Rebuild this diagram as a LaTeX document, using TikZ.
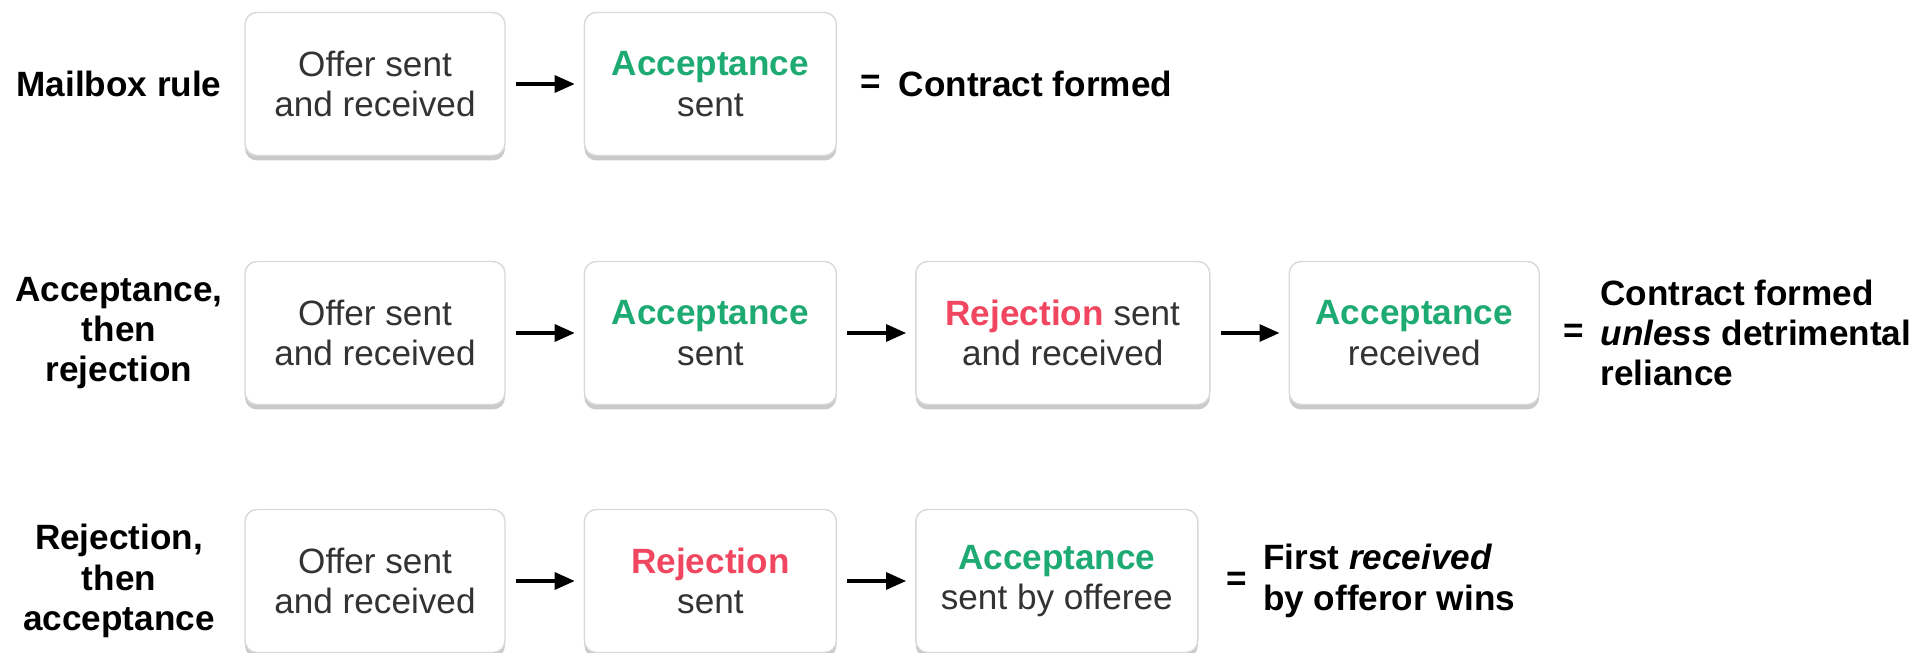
\documentclass[tikz,border=0pt]{standalone}
\usepackage{fontspec}
\setmainfont{Liberation Sans}
\usetikzlibrary{positioning,shadows,arrows.meta}
\definecolor{accgreen}{RGB}{30,170,115}
\definecolor{rejred}{RGB}{240,70,95}
\definecolor{boxtext}{RGB}{51,51,51}
\newcommand{\acc}[1]{\textcolor{accgreen}{\textbf{#1}}}
\newcommand{\rej}[1]{\textcolor{rejred}{\textbf{#1}}}

\begin{document}
\begin{tikzpicture}[node distance=0.78cm,
      every node/.style = {font=\fontsize{10}{11.5}\selectfont},
      stage/.style = {draw=black!15, fill=white, rounded corners=0.12cm, align=center,
        minimum height=1.43cm, text=boxtext,
        drop shadow={shadow xshift=0cm, shadow yshift=-0.05cm, opacity=0.35, fill=black!60}},
      rowlabel/.style = {align=center, font=\fontsize{10}{11.5}\selectfont\bfseries},
      equals/.style = {inner sep=0pt, font=\fontsize{10}{11.5}\selectfont\bfseries},
      result/.style = {align=left, inner sep=0pt, font=\fontsize{10}{11.5}\selectfont\bfseries},
      arr/.style = {-{Triangle[length=0.2cm,width=0.17cm]}, line width=0.9pt,
        shorten >=0.09cm, shorten <=0.1cm}]
    \useasboundingbox (0,0) rectangle (19.21,-6.53);

    \node[rowlabel] (mail) at (1.19,-0.84) {Mailbox rule};
    \node[stage, minimum width=2.6cm] (mailoffer) at (3.75,-0.84) {Offer sent\\and received};
    \node[stage, minimum width=2.52cm, right=of mailoffer] (mailacc) {\acc{Acceptance}\\sent};
    \node[equals, right=0.23cm of mailacc] (maileq) {=};
    \node[result, right=0.16cm of maileq] (mailres) {Contract formed};
    \draw[arr] (mailoffer) -- (mailacc);

    \node[rowlabel] (accrej) at (1.19,-3.33) {Acceptance,\\then\\rejection};
    \node[stage, minimum width=2.6cm] (aroffer) at (3.75,-3.33) {Offer sent\\and received};
    \node[stage, minimum width=2.52cm, right=of aroffer] (aracc) {\acc{Acceptance}\\sent};
    \node[stage, minimum width=2.94cm, right=of aracc] (arrej) {\rej{Rejection} sent\\and received};
    \node[stage, minimum width=2.5cm, right=of arrej] (arrecv) {\acc{Acceptance}\\received};
    \node[equals, right=0.23cm of arrecv] (areq) {=};
    \node[result, right=0.15cm of areq] (arres) {Contract formed\\\textit{unless} detrimental\\reliance};
    \draw[arr] (aroffer) -- (aracc);
    \draw[arr] (aracc) -- (arrej);
    \draw[arr] (arrej) -- (arrecv);

    \node[rowlabel] (rejacc) at (1.19,-5.81) {Rejection,\\then\\acceptance};
    \node[stage, minimum width=2.6cm] (raoffer) at (3.75,-5.81) {Offer sent\\and received};
    \node[stage, minimum width=2.52cm, right=of raoffer] (rarej) {\rej{Rejection}\\sent};
    \node[stage, minimum width=2.82cm, right=of rarej] (raacc) {\acc{Acceptance}\\sent by offeree};
    \node[equals, right=0.27cm of raacc] (raeq) {=};
    \node[result, right=0.15cm of raeq] (rares) {First \textit{received}\\by offeror wins};
    \draw[arr] (raoffer) -- (rarej);
    \draw[arr] (rarej) -- (raacc);
\end{tikzpicture}
\end{document}
